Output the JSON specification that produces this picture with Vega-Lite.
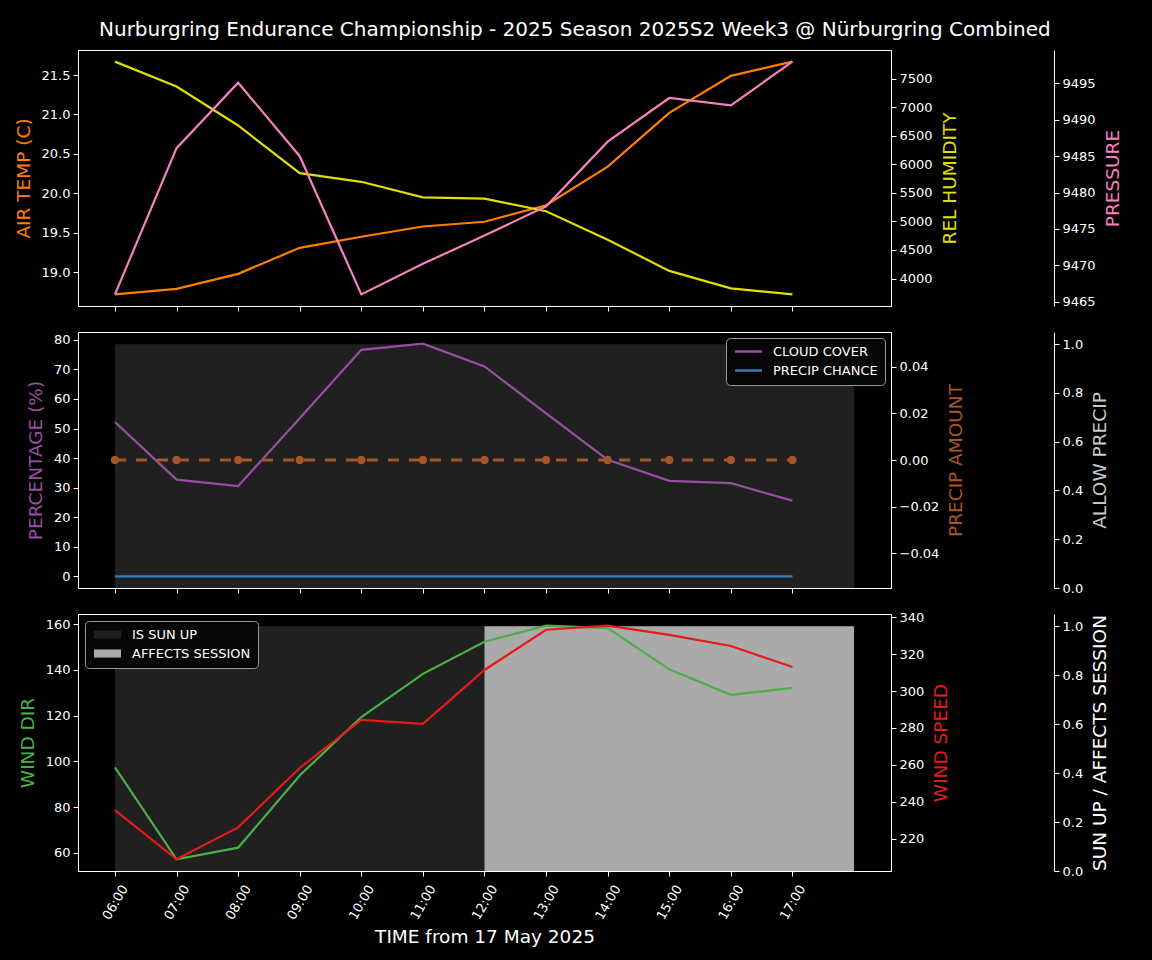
{
  "$schema": "https://vega.github.io/schema/vega-lite/v6.json",
  "background": "#000000",
  "padding": {"left": 13, "top": 19, "right": 29, "bottom": 13},
  "title": {"text": "Nurburgring Endurance Championship - 2025 Season 2025S2 Week3 @ Nürburgring Combined", "color": "#ffffff", "fontSize": 20, "font": "DejaVu Sans", "fontWeight": "normal", "anchor": "middle", "offset": 10, "dx": 7},
  "datasets": {
    "wx": [
      {"hour": 6, "air_temp": 18.72, "rel_humidity": 7801, "pressure": 9466.0, "cloud_cover": 52.2, "precip_chance": 0, "precip_amount": 0, "wind_dir": 97.4, "wind_speed": 235.4},
      {"hour": 7, "air_temp": 18.79, "rel_humidity": 7366, "pressure": 9486.1, "cloud_cover": 32.7, "precip_chance": 0, "precip_amount": 0, "wind_dir": 57.1, "wind_speed": 208.8},
      {"hour": 8, "air_temp": 18.98, "rel_humidity": 6682, "pressure": 9495.1, "cloud_cover": 30.5, "precip_chance": 0, "precip_amount": 0, "wind_dir": 62.2, "wind_speed": 226.1},
      {"hour": 9, "air_temp": 19.31, "rel_humidity": 5846, "pressure": 9485.0, "cloud_cover": 53.5, "precip_chance": 0, "precip_amount": 0, "wind_dir": 93.8, "wind_speed": 258.3},
      {"hour": 10, "air_temp": 19.45, "rel_humidity": 5695, "pressure": 9466.0, "cloud_cover": 76.6, "precip_chance": 0, "precip_amount": 0, "wind_dir": 119.4, "wind_speed": 284.4},
      {"hour": 11, "air_temp": 19.58, "rel_humidity": 5421, "pressure": 9470.2, "cloud_cover": 78.7, "precip_chance": 0, "precip_amount": 0, "wind_dir": 138.3, "wind_speed": 282.2},
      {"hour": 12, "air_temp": 19.64, "rel_humidity": 5399, "pressure": 9474.1, "cloud_cover": 71.0, "precip_chance": 0, "precip_amount": 0, "wind_dir": 152.4, "wind_speed": 311.4},
      {"hour": 13, "air_temp": 19.85, "rel_humidity": 5178, "pressure": 9478.1, "cloud_cover": 55.1, "precip_chance": 0, "precip_amount": 0, "wind_dir": 159.4, "wind_speed": 333.2},
      {"hour": 14, "air_temp": 20.34, "rel_humidity": 4680, "pressure": 9487.0, "cloud_cover": 39.4, "precip_chance": 0, "precip_amount": 0, "wind_dir": 158.3, "wind_speed": 335.4},
      {"hour": 15, "air_temp": 21.02, "rel_humidity": 4133, "pressure": 9493.0, "cloud_cover": 32.3, "precip_chance": 0, "precip_amount": 0, "wind_dir": 140.3, "wind_speed": 330.4},
      {"hour": 16, "air_temp": 21.49, "rel_humidity": 3827, "pressure": 9492.0, "cloud_cover": 31.5, "precip_chance": 0, "precip_amount": 0, "wind_dir": 129.1, "wind_speed": 324.4},
      {"hour": 17, "air_temp": 21.67, "rel_humidity": 3722, "pressure": 9498.0, "cloud_cover": 25.6, "precip_chance": 0, "precip_amount": 0, "wind_dir": 132.2, "wind_speed": 313.0}
    ],
    "allow": [
      {"start": 6, "end": 18, "allow_precip": 1}
    ],
    "shade": [
      {"series": "IS SUN UP", "start": 6, "end": 18, "value": 1},
      {"series": "AFFECTS SESSION", "start": 12, "end": 18, "value": 1}
    ]
  },
  "bounds": "flush",
  "spacing": 26,
  "vconcat": [
    {
      "width": 813,
      "height": 256,
      "data": {"name": "wx"},
      "encoding": {
        "x": {"field": "hour", "type": "quantitative", "scale": {"domain": [5.4, 18.6], "nice": false, "zero": false}, "axis": {"values": [6, 7, 8, 9, 10, 11, 12, 13, 14, 15, 16, 17], "labels": false, "title": null}}
      },
      "layer": [
        {
          "mark": {"type": "line", "color": "#ff7f00", "strokeWidth": 2.2},
          "encoding": {"y": {"field": "air_temp", "type": "quantitative", "scale": {"domain": [18.5725, 21.8175], "nice": false, "zero": false}, "axis": {"orient": "left", "title": "AIR TEMP (C)", "titleColor": "#ff7f00", "values": [19, 19.5, 20, 20.5, 21, 21.5], "format": ".1f"}}}
        },
        {
          "mark": {"type": "line", "color": "#e0e000", "strokeWidth": 2.2},
          "encoding": {"y": {"field": "rel_humidity", "type": "quantitative", "scale": {"domain": [3518, 8005], "nice": false, "zero": false}, "axis": {"orient": "right", "title": "REL HUMIDITY", "titleColor": "#e0e000", "titleAngle": 270, "titleBaseline": "top", "values": [4000, 4500, 5000, 5500, 6000, 6500, 7000, 7500], "format": "d"}}}
        },
        {
          "mark": {"type": "line", "color": "#f781bf", "strokeWidth": 2.2},
          "encoding": {"y": {"field": "pressure", "type": "quantitative", "scale": {"domain": [9464.4, 9499.6], "nice": false, "zero": false}, "axis": {"orient": "right", "offset": 163, "title": "PRESSURE", "titleColor": "#f781bf", "titleAngle": 270, "titleBaseline": "top", "values": [9465, 9470, 9475, 9480, 9485, 9490, 9495], "format": "d"}}}
        }
      ],
      "resolve": {"scale": {"y": "independent"}, "axis": {"y": "independent"}}
    },
    {
      "width": 813,
      "height": 256,
      "encoding": {
        "x": {"field": "hour", "type": "quantitative", "scale": {"domain": [5.4, 18.6], "nice": false, "zero": false}, "axis": {"values": [6, 7, 8, 9, 10, 11, 12, 13, 14, 15, 16, 17], "labels": false, "title": null}}
      },
      "layer": [
        {
          "data": {"name": "allow"},
          "mark": {"type": "rect", "color": "#202020"},
          "encoding": {
            "x": {"field": "start", "type": "quantitative"},
            "x2": {"field": "end"},
            "y": {"field": "allow_precip", "type": "quantitative", "scale": {"domain": [0, 1.05], "nice": false, "zero": false}, "axis": {"orient": "right", "offset": 163, "title": "ALLOW PRECIP", "titleColor": "#c8c8c8", "titleAngle": 270, "titleBaseline": "top", "values": [0, 0.2, 0.4, 0.6, 0.8, 1.0], "format": ".1f"}},
            "y2": {"datum": 0}
          }
        },
        {
          "data": {"name": "wx"},
          "transform": [{"fold": ["cloud_cover", "precip_chance"], "as": ["measure", "pct"]}],
          "mark": {"type": "line", "strokeWidth": 2.2},
          "encoding": {
            "y": {"field": "pct", "type": "quantitative", "scale": {"domain": [-3.935, 82.635], "nice": false, "zero": false}, "axis": {"orient": "left", "title": "PERCENTAGE (%)", "titleColor": "#984ea3", "values": [0, 10, 20, 30, 40, 50, 60, 70, 80], "format": "d"}},
            "stroke": {"field": "measure", "type": "nominal", "scale": {"domain": ["cloud_cover", "precip_chance"], "range": ["#984ea3", "#377eb8"]}, "legend": {"title": null, "orient": "top-right", "offset": 6, "labelExpr": "datum.label == 'cloud_cover' ? 'CLOUD COVER' : 'PRECIP CHANCE'", "symbolType": "M-3,0L3,0", "symbolSize": 81, "symbolStrokeWidth": 2.5, "symbolOffset": 9, "fillColor": "#060606", "strokeColor": "#999999", "cornerRadius": 4, "padding": 7, "labelColor": "#ffffff", "labelFontSize": 13, "labelFont": "DejaVu Sans", "rowPadding": 5, "labelOffset": 18}}
          }
        },
        {
          "data": {"name": "wx"},
          "mark": {"type": "line", "color": "#a65628", "strokeWidth": 3, "strokeDash": [11, 10], "point": {"filled": true, "size": 70, "color": "#a65628", "opacity": 1}},
          "encoding": {
            "y": {"field": "precip_amount", "type": "quantitative", "scale": {"domain": [-0.055, 0.055], "nice": false, "zero": false}, "axis": {"orient": "right", "title": "PRECIP AMOUNT", "titleColor": "#a65628", "titleAngle": 270, "titleBaseline": "top", "values": [-0.04, -0.02, 0, 0.02, 0.04], "format": ".2f"}}
          }
        }
      ],
      "resolve": {"scale": {"y": "independent"}, "axis": {"y": "independent"}}
    },
    {
      "width": 813,
      "height": 257,
      "encoding": {
        "x": {"field": "hour", "type": "quantitative", "scale": {"domain": [5.4, 18.6], "nice": false, "zero": false}, "axis": {"values": [6, 7, 8, 9, 10, 11, 12, 13, 14, 15, 16, 17], "labelExpr": "(datum.value < 10 ? '0' : '') + datum.value + ':00'", "labelAngle": -60, "labelAlign": "center", "labelBaseline": "middle", "labelPadding": 26, "title": "TIME from 17 May 2025", "titlePadding": 6}}
      },
      "layer": [
        {
          "data": {"name": "shade"},
          "mark": {"type": "rect"},
          "encoding": {
            "x": {"field": "start", "type": "quantitative"},
            "x2": {"field": "end"},
            "y": {"field": "value", "type": "quantitative", "scale": {"domain": [0, 1.05], "nice": false, "zero": false}, "axis": {"orient": "right", "offset": 163, "title": "SUN UP / AFFECTS SESSION", "titleColor": "#ffffff", "titleAngle": 270, "titleBaseline": "top", "values": [0, 0.2, 0.4, 0.6, 0.8, 1.0], "format": ".1f"}},
            "y2": {"datum": 0},
            "fill": {"field": "series", "type": "nominal", "scale": {"domain": ["IS SUN UP", "AFFECTS SESSION"], "range": ["#202020", "#aaaaaa"]}, "legend": {"title": null, "orient": "top-left", "offset": 7, "symbolType": "M-3,-0.9L3,-0.9L3,0.9L-3,0.9Z", "symbolSize": 81, "symbolStrokeWidth": 0, "symbolOffset": 9, "fillColor": "#060606", "strokeColor": "#999999", "cornerRadius": 4, "padding": 7, "labelColor": "#ffffff", "labelFontSize": 13, "labelFont": "DejaVu Sans", "rowPadding": 5, "labelOffset": 18}}
          }
        },
        {
          "data": {"name": "wx"},
          "mark": {"type": "line", "color": "#4daf4a", "strokeWidth": 2.2},
          "encoding": {"y": {"field": "wind_dir", "type": "quantitative", "scale": {"domain": [51.985, 164.515], "nice": false, "zero": false}, "axis": {"orient": "left", "title": "WIND DIR", "titleColor": "#4daf4a", "values": [60, 80, 100, 120, 140, 160], "format": "d"}}}
        },
        {
          "data": {"name": "wx"},
          "mark": {"type": "line", "color": "#e41a1c", "strokeWidth": 2.2},
          "encoding": {"y": {"field": "wind_speed", "type": "quantitative", "scale": {"domain": [202.47, 341.73], "nice": false, "zero": false}, "axis": {"orient": "right", "title": "WIND SPEED", "titleColor": "#e41a1c", "titleAngle": 270, "titleBaseline": "top", "values": [220, 240, 260, 280, 300, 320, 340], "format": "d"}}}
        }
      ],
      "resolve": {"scale": {"y": "independent"}, "axis": {"y": "independent"}}
    }
  ],
  "resolve": {"scale": {"stroke": "independent", "fill": "independent"}, "legend": {"stroke": "independent", "fill": "independent"}},
  "config": {
    "view": {"stroke": "#ffffff", "strokeWidth": 1},
    "axis": {"domainColor": "#ffffff", "tickColor": "#ffffff", "labelColor": "#ffffff", "titleColor": "#ffffff", "labelFont": "DejaVu Sans", "titleFont": "DejaVu Sans", "labelFontSize": 13, "titleFontSize": 18.5, "titleFontWeight": "normal", "grid": false, "tickSize": 5, "labelPadding": 3, "titlePadding": 8, "domainWidth": 1, "tickWidth": 1},
    "legend": {"labelFont": "DejaVu Sans"}
  }
}
